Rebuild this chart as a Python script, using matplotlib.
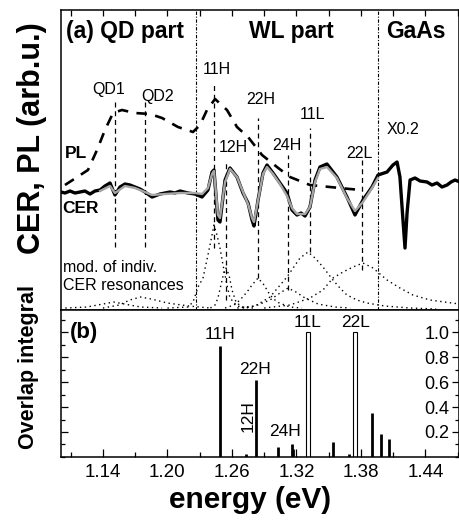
import matplotlib
matplotlib.use("Agg")
import matplotlib.pyplot as plt
from matplotlib.ticker import MultipleLocator, FixedLocator

plt.rcParams['font.family'] = ['Liberation Sans', 'DejaVu Sans']
plt.rcParams['axes.linewidth'] = 1.1

# --- CER spectrum (black, measured) ---
cer_E = [1.101, 1.1047, 1.1094, 1.1140, 1.1187, 1.1233, 1.1280, 1.1326, 1.1373, 1.1419,
         1.1466, 1.1512, 1.1559, 1.1605, 1.1652, 1.1698, 1.1745, 1.1791, 1.1857, 1.1931,
         1.1977, 1.2024, 1.2070, 1.2117, 1.2191, 1.2257, 1.2322, 1.2377, 1.2415, 1.2433,
         1.2470, 1.2489, 1.2536, 1.2582, 1.2647, 1.2703, 1.2750, 1.2787, 1.2805, 1.2843,
         1.2889, 1.2926, 1.2982, 1.3047, 1.3112, 1.3159, 1.3205, 1.3243, 1.3280, 1.3326,
         1.3373, 1.3419, 1.3484, 1.3577, 1.3670, 1.3745, 1.3819, 1.3903, 1.3959, 1.4043,
         1.4098, 1.4136, 1.4163, 1.4191, 1.4210, 1.4229, 1.4257, 1.4303, 1.4350, 1.4415,
         1.4461, 1.4508, 1.4554, 1.4601, 1.4638, 1.4675, 1.4722]
cer_y = [118, 117, 119, 117, 118, 119, 116, 119, 120, 124,
         127, 115, 123, 126, 125, 123, 121, 118, 113, 116,
         117, 118, 117, 119, 117, 116, 113, 120, 138, 140,
         90, 88, 130, 142, 133, 117, 107, 90, 84, 110,
         137, 145, 137, 127, 117, 100, 95, 97, 94, 103,
         130, 143, 146, 133, 113, 95, 110, 123, 135, 138,
         145, 148, 133, 90, 62, 97, 130, 132, 129, 128,
         125, 127, 123, 125, 128, 130, 128]

# --- CER fit (grey) ---
fit_E = [1.1373, 1.1466, 1.1512, 1.1605, 1.1698, 1.1791, 1.1857, 1.1977, 1.2117, 1.2257,
         1.2322, 1.2377, 1.2415, 1.2433, 1.2470, 1.2489, 1.2536, 1.2582, 1.2647, 1.2703,
         1.2750, 1.2787, 1.2805, 1.2843, 1.2889, 1.2926, 1.2982, 1.3047, 1.3112, 1.3159,
         1.3205, 1.3280, 1.3326, 1.3373, 1.3419, 1.3484, 1.3577, 1.3670, 1.3745, 1.3819,
         1.3903, 1.3959]
fit_y = [119, 124, 117, 124, 122, 118, 115, 116, 117, 117,
         116, 122, 136, 139, 95, 92, 128, 141, 133, 118,
         106, 92, 88, 110, 136, 143, 136, 126, 114, 102,
         96, 96, 103, 128, 141, 143, 132, 112, 99, 108,
         122, 132]

# --- PL spectrum (dashed) ---
pl_E = [1.1047, 1.1261, 1.1345, 1.1419, 1.1494, 1.1577, 1.1698, 1.1838, 1.1950, 1.2098,
        1.2238, 1.2303, 1.2368, 1.2443, 1.2554, 1.2647, 1.2750, 1.2880, 1.3019, 1.3140,
        1.3326, 1.3512, 1.3698, 1.3810]
pl_y = [125, 140, 160, 180, 197, 200, 197, 196, 192, 183,
        178, 185, 200, 211, 200, 183, 173, 155, 143, 133,
        125, 123, 121, 120]

# --- moduli of individual CER resonances (dotted) ---
mod_qd1_E = [1.105, 1.125, 1.140, 1.150, 1.160, 1.175, 1.195]
mod_qd1_y = [2, 3, 6, 8, 6, 3, 2]
mod_qd2_E = [1.140, 1.155, 1.165, 1.175, 1.185, 1.200, 1.220, 1.240]
mod_qd2_y = [2, 5, 10, 13, 11, 7, 4, 2]
mod_11h_E = [1.200, 1.2190, 1.2238, 1.2285, 1.2331, 1.2377, 1.2415, 1.2433, 1.2461, 1.2489,
             1.2517, 1.2554, 1.2582, 1.2647, 1.275]
mod_11h_y = [2, 3, 8, 23, 32, 55, 75, 85, 75, 62, 45, 25, 12, 4, 2]
mod_12h_E = [1.2400, 1.2443, 1.2470, 1.2498, 1.2526, 1.2545, 1.2573, 1.2601, 1.2638, 1.2694, 1.280]
mod_12h_y = [2, 5, 12, 25, 38, 42, 35, 20, 8, 3, 2]
mod_22h_E = [1.2536, 1.2620, 1.2675, 1.2740, 1.2787, 1.2843, 1.2899, 1.2954, 1.3019, 1.3140, 1.325]
mod_22h_y = [2, 5, 10, 18, 25, 32, 25, 15, 8, 3, 2]
mod_24h_E = [1.2700, 1.2815, 1.2954, 1.3047, 1.3121, 1.3196, 1.3280, 1.3401, 1.3559, 1.370]
mod_24h_y = [2, 4, 10, 17, 22, 18, 12, 6, 3, 2]
mod_11l_E = [1.2650, 1.2815, 1.2954, 1.3112, 1.3233, 1.3308, 1.3373, 1.3447, 1.3540, 1.3605,
             1.3670, 1.3763, 1.3856, 1.4024, 1.4257, 1.4500]
mod_11l_y = [2, 4, 13, 33, 52, 58, 52, 43, 30, 22, 15, 10, 7, 4, 2, 1]
mod_22l_E = [1.2900, 1.3140, 1.3326, 1.3447, 1.3540, 1.3633, 1.3726, 1.3819, 1.3912, 1.4043,
             1.4163, 1.4284, 1.4443, 1.4647, 1.4722]
mod_22l_y = [2, 5, 12, 20, 32, 38, 43, 47, 42, 30, 22, 15, 10, 7, 6]
mod_curves = [(mod_qd1_E, mod_qd1_y), (mod_qd2_E, mod_qd2_y), (mod_11h_E, mod_11h_y),
              (mod_12h_E, mod_12h_y), (mod_22h_E, mod_22h_y), (mod_24h_E, mod_24h_y),
              (mod_11l_E, mod_11l_y), (mod_22l_E, mod_22l_y)]

# --- resonance markers (vertical dashed lines) ---
res_names = ['QD1', 'QD2', '11H', '12H', '22H', '24H', '11L', '22L']
res_E = [1.1512, 1.1791, 1.2433, 1.2545, 1.2843, 1.3121, 1.3326, 1.3810]
res_top = [208, 210, 227, 147, 192, 155, 182, 152]
res_bot = [63, 63, 62, 10, 32, 20, 58, 40]
lab_E = [1.1457, 1.1912, 1.2461, 1.2610, 1.2870, 1.3112, 1.3345, 1.3782]
lab_y = [220, 213, 240, 163, 210, 165, 195, 157]

section_E = [1.2266, 1.3962]

# --- overlap integrals (panel b) ---
ov_E = [1.2486, 1.2728, 1.2824, 1.3029, 1.3156, 1.3168, 1.3540, 1.3690, 1.3903, 1.3987, 1.4061]
ov_val = [0.89, 0.02, 0.62, 0.08, 0.10, 0.06, 0.12, 0.02, 0.35, 0.18, 0.14]
ovL_E = [1.3308, 1.3745]
ovL_val = [1.0, 1.0]
ov_lab = ['11H', '22H', '24H', '11L', '22L']
ov_lab_E = [1.2490, 1.2815, 1.3094, 1.3308, 1.3754]
ov_lab_y = [0.98, 0.70, 0.20, 1.08, 1.08]

xticks = [1.14, 1.20, 1.26, 1.32, 1.38, 1.44]
yticks_b = [0.2, 0.4, 0.6, 0.8, 1.0]

fig = plt.figure(figsize=(4.6, 5.2), dpi=100)
ax1 = fig.add_axes([0.1326, 0.4038, 0.8654, 0.577])
ax2 = fig.add_axes([0.1326, 0.1202, 0.8654, 0.2836], sharex=ax1)

xmin, xmax = 1.101, 1.4713

# ---------- panel (a) ----------
for E in section_E:
    ax1.axvline(E, color='black', lw=0.8, dashes=(3, 1.5, 1, 1.5))

for E, top, bot in zip(res_E, res_top, res_bot):
    ax1.plot([E, E], [bot, top], color='black', lw=0.9, dashes=(4, 3))

for xs, ys in mod_curves:
    ax1.plot(xs, ys, color='black', lw=1.0, ls=(0, (1, 2.5)))

ax1.plot(pl_E, pl_y, color='black', lw=1.9, dashes=(4, 3.2))
ax1.plot(cer_E, cer_y, color='black', lw=2.4)
ax1.plot(fit_E, fit_y, color='#a5a5a5', lw=1.7)

for name, E, y in zip(res_names, lab_E, lab_y):
    ax1.text(E, y, name, fontsize=11.5, ha='center', va='center')

ax1.text(1.1057, 278, '(a) QD part', fontsize=16.5, fontweight='bold', ha='left', va='center')
ax1.text(1.315, 278, 'WL part', fontsize=16.5, fontweight='bold', ha='center', va='center')
ax1.text(1.4312, 278, 'GaAs', fontsize=16.5, fontweight='bold', ha='center', va='center')
ax1.text(1.4191, 180, 'X0.2', fontsize=11.5, ha='center', va='center')
ax1.text(1.1150, 157, 'PL', fontsize=12.5, fontweight='bold', ha='center', va='center')
ax1.text(1.1195, 102, 'CER', fontsize=12.5, fontweight='bold', ha='center', va='center')
ax1.text(1.1025, 43, 'mod. of indiv.', fontsize=11.5, ha='left', va='center')
ax1.text(1.1025, 25, 'CER resonances', fontsize=11.5, ha='left', va='center')

ax1.set_xlim(xmin, xmax)
ax1.set_ylim(0, 300)
ax1.set_yticks([])
ax1.xaxis.set_major_locator(MultipleLocator(0.03))
ax1.tick_params(axis='x', which='both', direction='in', top=True, bottom=False,
                labelbottom=False, labeltop=False, length=4, width=0.9)

# ---------- panel (b) ----------
ax2.vlines(ov_E, 0, ov_val, color='black', lw=2.0)
ax2.bar(ovL_E, ovL_val, width=0.0032, facecolor='white', edgecolor='black', lw=0.8)
for name, E, y in zip(ov_lab, ov_lab_E, ov_lab_y):
    ax2.text(E, y, name, fontsize=12.5, ha='center', va='center')
ax2.text(1.2750, 0.33, '12H', fontsize=12.5, rotation=90, ha='center', va='center')
ax2.text(1.1094, 1.0, '(b)', fontsize=16, fontweight='bold', ha='left', va='center')

ax2.set_xlim(xmin, xmax)
ax2.set_ylim(-0.005, 1.18)
ax2.xaxis.set_major_locator(FixedLocator(xticks))
ax2.xaxis.set_minor_locator(FixedLocator([1.11, 1.17, 1.23, 1.29, 1.35, 1.41, 1.47]))
ax2.set_xticklabels([f'{v:.2f}' for v in xticks])
ax2.tick_params(axis='x', which='major', direction='in', length=6, width=0.9,
                labelsize=13.5, pad=5)
ax2.tick_params(axis='x', which='minor', direction='in', length=3.5, width=0.9)

ax2.set_yticks(yticks_b)
ax2.set_yticklabels([f'{v:.1f}' for v in yticks_b])
ax2.yaxis.set_minor_locator(MultipleLocator(0.1))
ax2.tick_params(axis='y', which='both', direction='in', left=True, right=True,
                labelleft=False, labelright=True, width=0.9)
ax2.tick_params(axis='y', which='major', length=5, labelsize=13, pad=-7)
ax2.tick_params(axis='y', which='minor', length=3)
for lbl in ax2.get_yticklabels():
    lbl.set_horizontalalignment('right')

fig.text(32 / 460, 1 - 138 / 520, 'CER, PL (arb.u.)', rotation=90, fontsize=22,
         fontweight='bold', ha='center', va='center')
fig.text(29 / 460, 1 - 367 / 520, 'Overlap integral', rotation=90, fontsize=15.5,
         fontweight='bold', ha='center', va='center')
fig.text(250 / 460, 1 - 500 / 520, 'energy (eV)', fontsize=21.5,
         fontweight='bold', ha='center', va='center')

fig.savefig('out.png', dpi=100)
